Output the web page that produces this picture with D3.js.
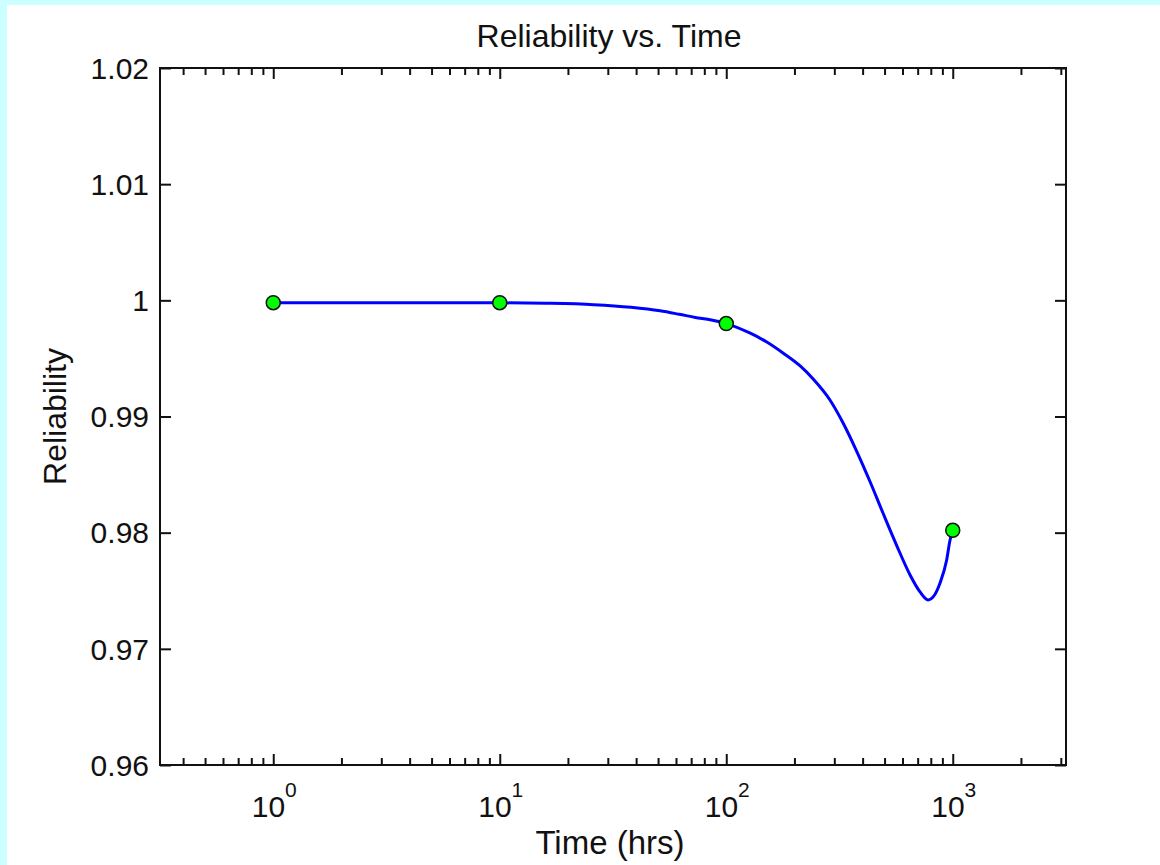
<!DOCTYPE html>
<html>
<head>
<meta charset="utf-8">
<script src="https://cdn.jsdelivr.net/npm/d3@7"></script>
<style>
  html, body { margin: 0; padding: 0; background: #ccffff; }
  svg { display: block; }
  text { font-family: "Liberation Sans", Arial, sans-serif; fill: #111; }
</style>
</head>
<body>
<div id="vis"></div>
<script>
var width = 1160;
var height = 865;
var plot = {left: 160, top: 68, right: 1066, bottom: 765};

// measured reliability at each time (hrs)
var POINT_TIMES = [1, 10, 100, 1000];
var POINT_RELIABILITY = [0.9998, 0.9998, 0.998, 0.9802];

// fitted curve
var CURVE_TIMES = [1, 5.5, 10, 16, 26, 38, 51, 62, 73, 86, 100, 127, 151, 178, 212, 242, 287, 328, 378, 432, 492, 567, 648, 717, 778, 821, 879, 940, 973, 1000];
var CURVE_RELIABILITY = [0.9998, 0.9998, 0.99979, 0.99975, 0.99963, 0.9994, 0.9991, 0.9988, 0.99853, 0.9983, 0.998, 0.99719, 0.99641, 0.99547, 0.99435, 0.99323, 0.99142, 0.98944, 0.98694, 0.98436, 0.98169, 0.97885, 0.97636, 0.9749, 0.97421, 0.97449, 0.97567, 0.97765, 0.97937, 0.9802];

var X_DOMAIN = [Math.pow(10, -0.5), Math.pow(10, 3.5)];
var Y_DOMAIN = [0.96, 1.02];
var X_MAJOR = [1, 10, 100, 1000];
var X_MAJOR_EXP = ['0', '1', '2', '3'];
var X_MINOR = [0.4, 0.5, 0.6, 0.7, 0.8, 0.9, 2, 3, 4, 5, 6, 7, 8, 9, 20, 30, 40, 50, 60, 70, 80, 90, 200, 300, 400, 500, 600, 700, 800, 900, 2000, 3000];
var Y_TICKS = [0.96, 0.97, 0.98, 0.99, 1, 1.01, 1.02];
var Y_TICK_LABELS = ['0.96', '0.97', '0.98', '0.99', '1', '1.01', '1.02'];

var xScale = d3.scaleLog().domain(X_DOMAIN).range([plot.left, plot.right]);
var yScale = d3.scaleLinear().domain(Y_DOMAIN).range([plot.bottom, plot.top]);

var svg = d3.select('#vis').append('svg')
    .attr('width', width)
    .attr('height', height);

// white figure area inside the cyan border
svg.append('rect')
  .attr('x', 7).attr('y', 5)
  .attr('width', width - 7).attr('height', height - 5)
  .attr('fill', 'white');

var plotW = plot.right - plot.left;
var plotH = plot.bottom - plot.top;

function bare(axis) {
  return axis.tickSizeOuter(0).tickFormat('');
}

// ticks on all four sides, pointing inward
svg.append('g')
  .attr('transform', 'translate(0,' + plot.bottom + ')')
  .call(bare(d3.axisTop(xScale).tickValues(X_MAJOR).tickSize(11)));
svg.append('g')
  .attr('transform', 'translate(0,' + plot.bottom + ')')
  .call(bare(d3.axisTop(xScale).tickValues(X_MINOR).tickSize(7)));
svg.append('g')
  .attr('transform', 'translate(0,' + plot.top + ')')
  .call(bare(d3.axisBottom(xScale).tickValues(X_MAJOR).tickSize(11)));
svg.append('g')
  .attr('transform', 'translate(0,' + plot.top + ')')
  .call(bare(d3.axisBottom(xScale).tickValues(X_MINOR).tickSize(7)));
svg.append('g')
  .attr('transform', 'translate(' + plot.left + ',0)')
  .call(bare(d3.axisRight(yScale).tickValues(Y_TICKS).tickSize(11)));
svg.append('g')
  .attr('transform', 'translate(' + plot.right + ',0)')
  .call(bare(d3.axisLeft(yScale).tickValues(Y_TICKS).tickSize(11)));

svg.selectAll('.tick line').attr('stroke', '#111').attr('stroke-width', 2);
svg.selectAll('.domain').remove();

svg.append('rect')
  .attr('x', plot.left).attr('y', plot.top)
  .attr('width', plotW).attr('height', plotH)
  .attr('fill', 'none')
  .attr('stroke', '#111')
  .attr('stroke-width', 2);

// tick labels
svg.append('g').selectAll('text')
  .data(Y_TICKS)
  .enter()
  .append('text')
  .attr('x', plot.left - 11)
  .attr('y', function(d) { return yScale(d); })
  .attr('dy', '0.36em')
  .attr('text-anchor', 'end')
  .style('font-size', '30px')
  .text(function(d, i) { return Y_TICK_LABELS[i]; });

var xLab = svg.append('g').selectAll('text')
  .data(X_MAJOR)
  .enter()
  .append('text')
  .attr('x', function(d) { return xScale(d) + 1; })
  .attr('y', 817)
  .attr('text-anchor', 'middle')
  .style('font-size', '30px');
xLab.append('tspan').text('10');
xLab.append('tspan')
  .attr('dy', -20)
  .style('font-size', '21px')
  .text(function(d, i) { return X_MAJOR_EXP[i]; });

// titles
svg.append('text')
  .attr('x', (plot.left + plot.right) / 2 - 4)
  .attr('y', 47)
  .attr('text-anchor', 'middle')
  .style('font-size', '32px')
  .text('Reliability vs. Time');

svg.append('text')
  .attr('x', (plot.left + plot.right) / 2 - 3)
  .attr('y', 854)
  .attr('text-anchor', 'middle')
  .style('font-size', '33px')
  .text('Time (hrs)');

svg.append('text')
  .attr('transform', 'translate(66,' + ((plot.top + plot.bottom) / 2) + ')rotate(-90)')
  .attr('text-anchor', 'middle')
  .style('font-size', '32px')
  .text('Reliability');

// curve
var curveData = CURVE_TIMES.map(function(t, i) { return [t, CURVE_RELIABILITY[i]]; });
var line = d3.line()
  .x(function(d) { return xScale(d[0]); })
  .y(function(d) { return yScale(d[1]); })
  .curve(d3.curveMonotoneX);

svg.append('path')
  .datum(curveData)
  .attr('d', line)
  .attr('fill', 'none')
  .attr('stroke', '#0000ff')
  .attr('stroke-width', 3)
  .attr('stroke-linejoin', 'round');

// measured points
svg.append('g')
  .selectAll('circle')
  .data(POINT_TIMES)
  .enter()
  .append('circle')
  .attr('cx', function(d) { return xScale(d); })
  .attr('cy', function(d, i) { return yScale(POINT_RELIABILITY[i]); })
  .attr('r', 7)
  .attr('fill', '#00ff00')
  .attr('stroke', '#111')
  .attr('stroke-width', 1.5);
</script>
</body>
</html>
